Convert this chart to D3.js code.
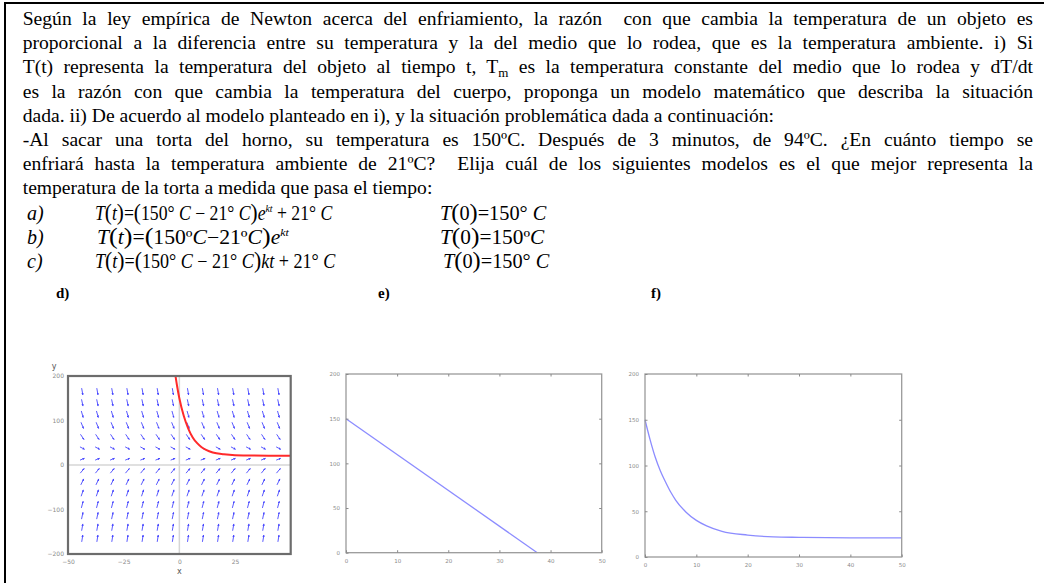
<!DOCTYPE html>
<html>
<head>
<meta charset="utf-8">
<script src="https://cdn.jsdelivr.net/npm/d3@7"></script>
<style>
  body { margin: 0; background: #fff; }
  svg { display: block; }
  text { white-space: pre; }
</style>
</head>
<body>
<div class="chart"></div>
<script>
// enunciado, una entrada por renglón ("_m" marca el subindice de T)
const paragraphLines = [
  'Según la ley empírica de Newton acerca del enfriamiento, la razón  con que cambia la temperatura de un objeto es',
  'proporcional a la diferencia entre su temperatura y la del medio que lo rodea, que es la temperatura ambiente. i) Si',
  'T(t) representa la temperatura del objeto al tiempo t, T_m es la temperatura constante del medio que lo rodea y dT/dt',
  'es la razón con que cambia la temperatura del cuerpo, proponga un modelo matemático que describa la situación',
  'dada. ii) De acuerdo al modelo planteado en i), y la situación problemática dada a continuación:',
  '-Al sacar una torta del horno, su temperatura es 150ºC. Después de 3 minutos, de 94ºC. ¿En cuánto tiempo se',
  'enfriará hasta la temperatura ambiente de 21ºC?  Elija cuál de los siguientes modelos es el que mejor representa la',
  'temperatura de la torta a medida que pasa el tiempo:'
];
const justified = [true, true, true, true, false, true, true, false];

const optionLabels = ['a)', 'b)', 'c)'];
const plotLabels = ['d)', 'e)', 'f)'];

// campo de direcciones del grafico d)
const fieldX = [-43.6, -36.8, -30.1, -23.3, -16.5, -9.7, -2.9, 3.9, 10.6, 17.4, 24.2, 31.0, 37.7, 44.5];
const fieldY = [165, 140, 114, 89, 63, 38, 13, -13, -38, -63, -89, -114, -140, -165];
const fieldAngle = [-80, -78, -74, -68, -56, -28, 22, 50, 64, 71, 75, 78, 80, 81];

// solucion en rojo del grafico d)
const solX = [-2, -1, 0, 2, 4, 6, 8, 10, 12, 15, 20, 25, 30, 40, 50];
const solY = [209, 177, 150, 110, 82, 62, 49, 40, 34, 28, 24, 22, 21.5, 21, 21];

// recta del grafico e)
const linX = [0, 37.4];
const linY = [150, 0];

// curva del grafico f)
const expX = [0, 1, 2, 3, 4, 5, 6, 8, 10, 12, 15, 20, 25, 30, 40, 50];
const expY = [150, 128, 109, 94, 82, 71, 62, 49, 40, 34, 28, 24, 22, 21.5, 21, 21];

const dTicksX = [-50, -25, 0, 25];
const dTicksY = [-200, -100, 0, 100, 200];
const tTicks = [0, 10, 20, 30, 40, 50];
const vTicks = [0, 50, 100, 150, 200];

const W = 1044, H = 583;
const SERIF = '"Liberation Serif", "Times New Roman", serif';
const SANS = '"DejaVu Sans", sans-serif';

const svg = d3.select('.chart').append('svg')
  .attr('width', W)
  .attr('height', H);

// marco del enunciado
svg.append('line').attr('x1', 5).attr('y1', 2).attr('x2', 5).attr('y2', H)
  .attr('stroke', '#000').attr('stroke-width', 2);
svg.append('line').attr('x1', 4).attr('y1', 3).attr('x2', W).attr('y2', 3)
  .attr('stroke', '#000').attr('stroke-width', 2);

// texto justificado
const TX = 22.7, TW = 1033 - 22.7;
const para = svg.append('g')
  .attr('font-family', SERIF)
  .attr('font-size', 19.6)
  .attr('fill', '#000');

paragraphLines.forEach((s, i) => {
  const t = para.append('text')
    .attr('x', TX)
    .attr('y', 25 + i * 24.2);
  s.split('_m').forEach((piece, j) => {
    if (j > 0) {
      t.append('tspan').attr('font-size', 13).attr('dy', 4).text('m');
      t.append('tspan').attr('dy', -4).text(piece);
    } else {
      t.append('tspan').text(piece);
    }
  });
  if (justified[i]) {
    const w = t.node().getComputedTextLength();
    const n = (s.match(/ /g) || []).length;
    t.style('word-spacing', ((TW - w) / n) + 'px');
  }
});

// formulas a) b) c)
const formulas = [
  [['T','i'],['(','P'],['t','i'],[')','P'],['=','r'],['(','P'],['150° ','r'],['C','i'],[' − 21° ','r'],['C','i'],[')','P'],['e','i'],['kt','s'],[' + 21° ','r'],['C','i']],
  [['T','i'],['(','P'],['t','i'],[')','P'],['=','r'],['(','P'],['150º','r'],['C','i'],['−21º','r'],['C','i'],[')','P'],['e','i'],['kt','s']],
  [['T','i'],['(','P'],['t','i'],[')','P'],['=','r'],['(','P'],['150° ','r'],['C','i'],[' − 21° ','r'],['C','i'],[')','P'],['kt','i'],[' + 21° ','r'],['C','i']]
];
const initials = [
  [['T','i'],['(','P'],['0','r'],[')','P'],['=','r'],['150° ','r'],['C','i']],
  [['T','i'],['(','P'],['0','r'],[')','P'],['=','r'],['150º','r'],['C','i']],
  [['T','i'],['(','P'],['0','r'],[')','P'],['=','r'],['150° ','r'],['C','i']]
];
const formulaX = [95, 97, 95];
const formulaW = [238, 193, 241];
const initialX = [440, 440, 443];
const initialW = [107, 105, 107];
const formulaY = [220, 244, 268];

function writeFormula(g, x, y, parts, width) {
  const t = g.append('text').attr('x', x).attr('y', y)
    .attr('font-family', SERIF).attr('font-size', 20);
  let raised = false;
  parts.forEach(([s, k]) => {
    const sp = t.append('tspan').text(s);
    if (k === 'i') sp.attr('font-style', 'italic');
    if (k === 'P') sp.attr('font-size', 24);
    if (k === 's') {
      sp.attr('font-style', 'italic').attr('font-size', 11).attr('dy', -8);
      raised = true;
    } else if (raised) {
      sp.attr('dy', 8);
      raised = false;
    }
  });
  // ajustar al ancho que ocupa en la figura
  const b = t.node().getBBox();
  const k = width / b.width;
  t.attr('transform', `translate(${x},0) scale(${k},1) translate(${-b.x},0)`);
}

const eq = svg.append('g');
optionLabels.forEach((lab, i) => {
  eq.append('text').attr('x', 27).attr('y', formulaY[i])
    .attr('font-family', SERIF).attr('font-size', 20).attr('font-style', 'italic')
    .text(lab);
  writeFormula(eq, formulaX[i], formulaY[i], formulas[i], formulaW[i]);
  writeFormula(eq, initialX[i], formulaY[i], initials[i], initialW[i]);
});

const labelX = [56, 378, 651];
plotLabels.forEach((lab, i) => {
  svg.append('text').attr('x', labelX[i]).attr('y', 298)
    .attr('font-family', SERIF).attr('font-size', 15).attr('font-weight', 'bold')
    .text(lab);
});

function tidy(g, color, fs) {
  g.select('.domain').remove();
  g.selectAll('line').attr('stroke', color);
  g.selectAll('text').attr('fill', color).attr('font-size', fs).attr('font-family', SANS);
}

// ---------- grafico d) ----------
const xd = d3.scaleLinear().domain([-50, 50]).range([68, 290.7]);
const yd = d3.scaleLinear().domain([-200, 200]).range([554, 376]);
const gd = svg.append('g');

svg.append('defs').append('clipPath').attr('id', 'clipD')
  .append('rect').attr('x', 68).attr('y', 376).attr('width', 222.7).attr('height', 178);

svg.select('defs').append('marker')
  .attr('id', 'head')
  .attr('viewBox', '0 0 4 4')
  .attr('refX', 3.5).attr('refY', 2)
  .attr('markerWidth', 2.6).attr('markerHeight', 2.6)
  .attr('orient', 'auto')
  .append('path').attr('d', 'M0,0 L4,2 L0,4 Z').attr('fill', '#4646ff');

gd.append('line').attr('x1', xd(0)).attr('x2', xd(0)).attr('y1', 376).attr('y2', 554)
  .attr('stroke', '#d6d6d6').attr('stroke-width', 1.5);
gd.append('line').attr('x1', 68).attr('x2', 290.7).attr('y1', yd(0)).attr('y2', yd(0))
  .attr('stroke', '#d6d6d6').attr('stroke-width', 1.5);

const cells = [];
fieldY.forEach((fy, i) => fieldX.forEach(fx => cells.push({ x: fx, y: fy, a: fieldAngle[i] })));
gd.selectAll('line.arrow').data(cells).enter().append('line')
  .attr('class', 'arrow')
  .each(function(d) {
    const a = d.a * Math.PI / 180;
    const L = 3.5 + 3.5 * Math.abs(Math.sin(a));
    const dx = Math.cos(a) * L / 2, dy = -Math.sin(a) * L / 2;
    d3.select(this)
      .attr('x1', xd(d.x) - dx).attr('y1', yd(d.y) - dy)
      .attr('x2', xd(d.x) + dx).attr('y2', yd(d.y) + dy);
  })
  .attr('stroke', '#4646ff')
  .attr('stroke-width', 0.9)
  .attr('marker-end', 'url(#head)');

gd.append('path')
  .datum(solX.map((x, i) => [x, solY[i]]))
  .attr('clip-path', 'url(#clipD)')
  .attr('d', d3.line().x(d => xd(d[0])).y(d => yd(d[1])).curve(d3.curveMonotoneX))
  .attr('fill', 'none')
  .attr('stroke', '#ff2a2a')
  .attr('stroke-width', 2);

gd.append('rect').attr('x', 68).attr('y', 376).attr('width', 222.7).attr('height', 178)
  .attr('fill', 'none').attr('stroke', '#6c6c6c').attr('stroke-width', 2.2);

gd.append('g').attr('transform', 'translate(0,554)')
  .call(d3.axisBottom(xd).tickValues(dTicksX).tickSize(0).tickPadding(6))
  .call(g => tidy(g, '#8a8a8a', 6));
gd.append('g').attr('transform', 'translate(68,0)')
  .call(d3.axisLeft(yd).tickValues(dTicksY).tickSize(0).tickPadding(4))
  .call(g => tidy(g, '#8a8a8a', 6));
gd.append('text').attr('x', xd(0)).attr('y', 574).attr('text-anchor', 'middle')
  .attr('font-family', SANS).attr('font-size', 8).attr('fill', '#555').text('x');
gd.append('text').attr('x', 54).attr('y', 369).attr('text-anchor', 'middle')
  .attr('font-family', SANS).attr('font-size', 8).attr('fill', '#555').text('y');

// ---------- graficos e) y f) ----------
function gnuplot(x0, x1, y0, y1, xs, ys, color) {
  const x = d3.scaleLinear().domain([0, 50]).range([x0, x1]);
  const y = d3.scaleLinear().domain([0, 200]).range([y1, y0]);
  const g = svg.append('g');
  g.append('path')
    .datum(xs.map((v, i) => [v, ys[i]]))
    .attr('d', d3.line().x(d => x(d[0])).y(d => y(d[1])).curve(d3.curveMonotoneX))
    .attr('fill', 'none').attr('stroke', color).attr('stroke-width', 1.3);
  g.append('rect').attr('x', x0).attr('y', y0).attr('width', x1 - x0).attr('height', y1 - y0)
    .attr('fill', 'none').attr('stroke', '#9a9a9a').attr('stroke-width', 1.3);
  g.append('g').attr('transform', `translate(0,${y1})`)
    .call(d3.axisBottom(x).tickValues(tTicks).tickSizeInner(-2.5).tickSizeOuter(0).tickPadding(6))
    .call(s => tidy(s, '#8a8a8a', 5.5));
  g.append('g').attr('transform', `translate(0,${y0})`)
    .call(d3.axisTop(x).tickValues(tTicks.slice(1, -1)).tickSizeInner(-2.5).tickSizeOuter(0).tickFormat(''))
    .call(s => tidy(s, '#8a8a8a', 5.5));
  g.append('g').attr('transform', `translate(${x0},0)`)
    .call(d3.axisLeft(y).tickValues(vTicks).tickSizeInner(-2.5).tickSizeOuter(0).tickPadding(6))
    .call(s => tidy(s, '#8a8a8a', 5.5));
  g.append('g').attr('transform', `translate(${x1},0)`)
    .call(d3.axisRight(y).tickValues(vTicks.slice(1, -1)).tickSizeInner(-2.5).tickSizeOuter(0).tickFormat(''))
    .call(s => tidy(s, '#8a8a8a', 5.5));
}

gnuplot(346, 601.7, 374, 552.7, linX, linY, '#8c8cff');
gnuplot(645, 901.7, 374, 557, expX, expY, '#8c8cff');
</script>
</body>
</html>
